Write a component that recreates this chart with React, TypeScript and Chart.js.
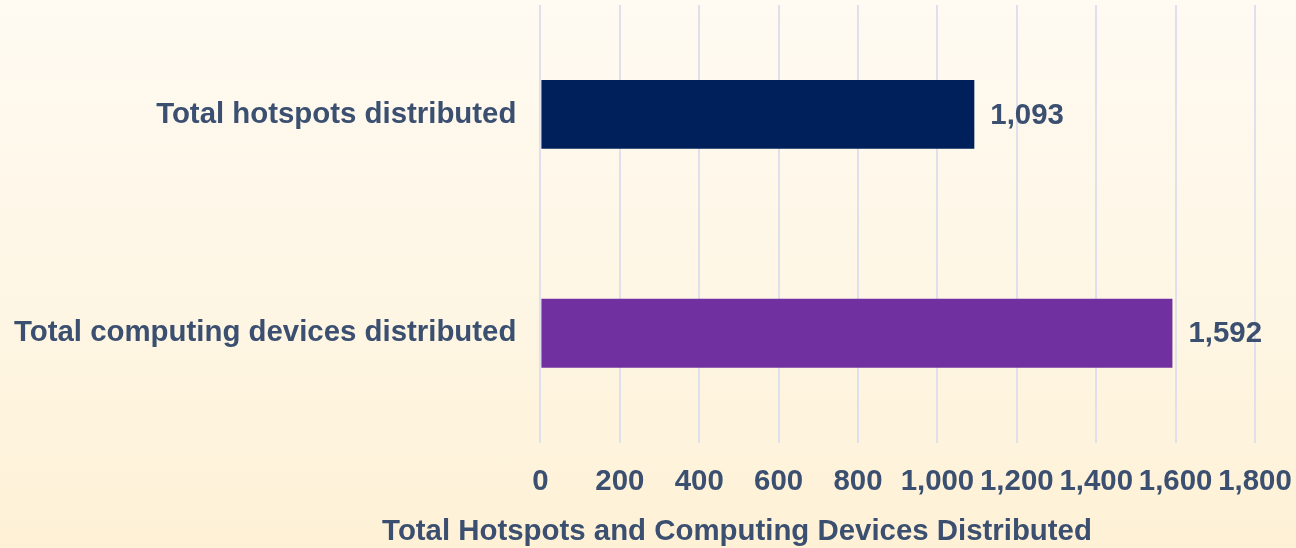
import React, { useEffect, useRef } from "react";
import { Chart, registerables } from "chart.js";

Chart.register(...registerables);

const categories = ["Total hotspots distributed", "Total computing devices distributed"];
const values = [1093, 1592];
const barColors = ["#00205b", "#7030a0"];
const axisTitle = "Total Hotspots and Computing Devices Distributed";
const xMax = 1800;
const xStep = 200;

const textColor = "#3b4f70";
const fontFamily = "'Liberation Sans', Arial, sans-serif";
const fontSize = 29.4;

const valueLabels = {
  id: "valueLabels",
  afterDatasetsDraw(chart: any) {
    const ctx = chart.ctx;
    const meta = chart.getDatasetMeta(0);
    ctx.save();
    ctx.font = `bold ${fontSize}px ${fontFamily}`;
    ctx.fillStyle = textColor;
    ctx.textAlign = "left";
    ctx.textBaseline = "middle";
    meta.data.forEach((el: any, i: number) => {
      const v = values[i];
      ctx.fillText(v.toLocaleString("en-US"), el.x + 16, el.y + 1);
    });
    ctx.restore();
  },
};

export default function App() {
  const ref = useRef<HTMLCanvasElement | null>(null);
  useEffect(() => {
    document.body.style.margin = "0";
    const chart = new Chart(ref.current!, {
      type: "bar",
      data: {
        labels: categories,
        datasets: [
          {
            data: values,
            backgroundColor: barColors,
            barPercentage: 0.63,
            categoryPercentage: 0.5,
          },
        ],
      },
      options: {
        indexAxis: "y",
        animation: false,
        responsive: false,
        maintainAspectRatio: false,
        layout: { padding: { top: 5, right: 0, bottom: 26, left: -10 } },
        plugins: { legend: { display: false }, tooltip: { enabled: false } },
        scales: {
          x: {
            min: 0,
            max: xMax,
            afterFit: (scale: any) => {
              scale.paddingRight = 41;
              scale.paddingLeft = 0;
            },
            ticks: {
              stepSize: xStep,
              padding: 25,
              color: textColor,
              font: { family: fontFamily, size: fontSize, weight: "bold", lineHeight: 1 },
              maxRotation: 0,
              autoSkip: false,
            },
            grid: { color: "#dfe0eb", lineWidth: 2, drawTicks: false },
            border: { display: false },
          },
          y: {
            afterFit: (scale: any) => {
              scale.paddingTop = 0;
              scale.paddingBottom = 0;
            },
            ticks: {
              padding: 24,
              color: textColor,
              font: { family: fontFamily, size: fontSize, weight: "bold", lineHeight: 1 },
            },
            grid: { display: false, drawTicks: false },
            border: { display: false },
          },
        },
      },
      plugins: [valueLabels],
    });
    return () => chart.destroy();
  }, []);
  return (
    <div
      style={{
        position: "relative",
        width: 1296,
        height: 548,
        background: "linear-gradient(to bottom, #fffaf2 0%, #fef7e6 50%, #fef1d6 100%)",
      }}
    >
      <canvas ref={ref} width={1296} height={548} style={{ display: "block" }} />
      <div
        style={{
          position: "absolute",
          left: 285,
          width: 904,
          top: 514,
          textAlign: "center",
          whiteSpace: "nowrap",
          fontFamily,
          fontWeight: "bold",
          fontSize,
          color: textColor,
          lineHeight: "32px",
        }}
      >
        {axisTitle}
      </div>
    </div>
  );
}
